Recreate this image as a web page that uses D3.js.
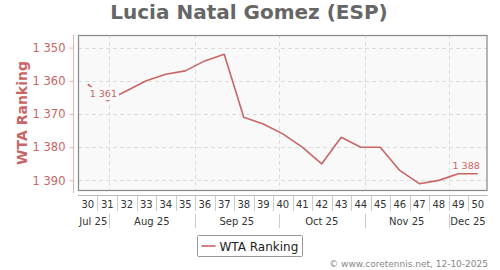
<!DOCTYPE html>
<html>
<head>
<meta charset="utf-8">
<script src="https://cdn.jsdelivr.net/npm/d3@7"></script>
<style>
  body { margin: 0; background: #fff; }
  text { font-family: "DejaVu Sans", sans-serif; }
</style>
</head>
<body>
<div id="chart"></div>
<script>
// ISO weeks of 2025 and the WTA ranking held in each
var weeks = [30, 31, 32, 33, 34, 35, 36, 37, 38, 39, 40,
             41, 42, 43, 44, 45, 46, 47, 48, 49, 50];
var ranking = [1361, 1366, 1363, 1360, 1358, 1357, 1354, 1352, 1371, 1373, 1376,
               1380, 1385, 1377, 1380, 1380, 1387, 1391, 1390, 1388, 1388];
var rankTicks = [1350, 1360, 1370, 1380, 1390];
var monthLabels = ["Jul 25", "Aug 25", "Sep 25", "Oct 25", "Nov 25", "Dec 25"];
var monthStarts = ["2025-07-01", "2025-08-01", "2025-09-01", "2025-10-01", "2025-11-01", "2025-12-01"];
var labelledWeeks = [30, 50];

var w = 500, h = 270;
var pLeft = 78, pRight = 487.5, pTop = 35, pBottom = 191;
var lineColor = "#c96565";
var DAY = 864e5;

// monday of an ISO week in 2025 (week 1 starts on 30 Dec 2024)
function weekStart(n) {
  return new Date(Date.UTC(2024, 11, 30) + (n - 1) * 7 * DAY);
}
function weekMid(n) {
  return new Date(weekStart(n).getTime() + 3.5 * DAY);
}

var svg = d3.select("#chart").append("svg")
  .attr("width", w)
  .attr("height", h);

var xScale = d3.scaleUtc()
  .domain([weekStart(weeks[0]), weekStart(weeks[weeks.length - 1] + 1)])
  .range([pLeft, pRight]);

var yScale = d3.scaleLinear()
  .domain([1346.2, 1393.2])
  .range([pTop, pBottom]);

// title
svg.append("text")
  .attr("x", 249)
  .attr("y", 19)
  .attr("text-anchor", "middle")
  .attr("font-size", "20px")
  .attr("font-weight", "bold")
  .attr("fill", "#666")
  .text("Lucia Natal Gomez (ESP)");

// plot background
svg.append("rect")
  .attr("x", pLeft)
  .attr("y", pTop)
  .attr("width", pRight - pLeft)
  .attr("height", pBottom - pTop)
  .attr("fill", "#f9f9f9");

// horizontal grid
svg.selectAll(".hgrid")
  .data(rankTicks)
  .enter()
  .append("line")
  .attr("class", "hgrid")
  .attr("x1", pLeft)
  .attr("x2", pRight)
  .attr("y1", function(d) { return Math.round(yScale(d)) + 0.5; })
  .attr("y2", function(d) { return Math.round(yScale(d)) + 0.5; })
  .attr("stroke", "#dcdcdc")
  .attr("stroke-dasharray", "4,3");

var monthDates = monthStarts.map(function(s) { return new Date(s + "T00:00:00Z"); });
var dom = xScale.domain();
var innerMonths = monthDates.filter(function(d) { return d > dom[0] && d < dom[1]; });

// vertical grid at month starts
svg.selectAll(".vgrid")
  .data(innerMonths)
  .enter()
  .append("line")
  .attr("class", "vgrid")
  .attr("x1", function(d) { return Math.round(xScale(d)) + 0.5; })
  .attr("x2", function(d) { return Math.round(xScale(d)) + 0.5; })
  .attr("y1", pTop)
  .attr("y2", pBottom)
  .attr("stroke", "#dcdcdc")
  .attr("stroke-dasharray", "4,3");

// plot border
svg.append("rect")
  .attr("x", pLeft + 0.5)
  .attr("y", pTop + 0.5)
  .attr("width", pRight - pLeft - 1)
  .attr("height", pBottom - pTop - 1)
  .attr("fill", "none")
  .attr("stroke", "#888")
  .attr("stroke-width", 1.2);

// y axis
var fmt = function(d) { return d3.format(",")(d).replace(",", " "); };
var yAxis = d3.axisLeft(yScale)
  .tickValues(rankTicks)
  .tickSize(4)
  .tickPadding(4)
  .tickFormat(fmt);

var yG = svg.append("g")
  .attr("transform", "translate(73.5,0)")
  .call(yAxis);
yG.select(".domain").attr("stroke", "#e3b3b3").attr("d", "M0," + pTop + "V" + (pBottom + 2));
yG.selectAll(".tick line").attr("stroke", "#e3b3b3");
yG.selectAll(".tick text")
  .attr("fill", lineColor)
  .attr("font-family", "DejaVu Sans")
  .attr("font-size", "11.5px");

svg.append("text")
  .attr("transform", "translate(27," + ((pTop + pBottom) / 2) + ") rotate(-90)")
  .attr("text-anchor", "middle")
  .attr("font-size", "14px")
  .attr("font-weight", "bold")
  .attr("fill", lineColor)
  .text("WTA Ranking");

// x axis: week labels centred in each week, separators at mondays
var xAxisY = 195.5;
svg.append("line")
  .attr("x1", pLeft)
  .attr("x2", pRight)
  .attr("y1", xAxisY)
  .attr("y2", xAxisY)
  .attr("stroke", "#bbb");

svg.selectAll(".wsep")
  .data(weeks.slice(1))
  .enter()
  .append("line")
  .attr("class", "wsep")
  .attr("x1", function(d) { return Math.round(xScale(weekStart(d))) + 0.5; })
  .attr("x2", function(d) { return Math.round(xScale(weekStart(d))) + 0.5; })
  .attr("y1", xAxisY)
  .attr("y2", 211)
  .attr("stroke", "#ccc");

svg.selectAll(".wlab")
  .data(weeks)
  .enter()
  .append("text")
  .attr("class", "wlab")
  .attr("x", function(d) { return xScale(weekMid(d)); })
  .attr("y", 208)
  .attr("text-anchor", "middle")
  .attr("font-size", "10px")
  .attr("fill", "#333")
  .text(function(d) { return d; });

// month row
svg.selectAll(".msep")
  .data(innerMonths)
  .enter()
  .append("line")
  .attr("class", "msep")
  .attr("x1", function(d) { return Math.round(xScale(d)) + 0.5; })
  .attr("x2", function(d) { return Math.round(xScale(d)) + 0.5; })
  .attr("y1", 214)
  .attr("y2", 228)
  .attr("stroke", "#ccc");

svg.selectAll(".mlab")
  .data(monthLabels)
  .enter()
  .append("text")
  .attr("class", "mlab")
  .attr("x", function(d, i) {
    var a = monthDates[i] < dom[0] ? dom[0] : monthDates[i];
    var b = (i + 1 < monthDates.length && monthDates[i + 1] < dom[1]) ? monthDates[i + 1] : dom[1];
    return (xScale(a) + xScale(b)) / 2;
  })
  .attr("y", 225)
  .attr("text-anchor", "middle")
  .attr("font-size", "10px")
  .attr("fill", "#333")
  .text(function(d) { return d; });

// ranking line
var line = d3.line()
  .x(function(d, i) { return xScale(weekMid(weeks[i])); })
  .y(function(d) { return yScale(d); });

svg.append("path")
  .datum(ranking)
  .attr("d", line)
  .attr("fill", "none")
  .attr("stroke", lineColor)
  .attr("stroke-width", 1.6)
  .attr("stroke-linejoin", "round");

// data labels on first and last point
labelledWeeks.forEach(function(wk, k) {
  var i = weeks.indexOf(wk);
  var px = xScale(weekMid(wk)), py = yScale(ranking[i]);
  var g = svg.append("g");
  var t = g.append("text")
    .attr("font-size", "9.5px")
    .attr("fill", lineColor)
    .attr("text-anchor", k === 0 ? "start" : "end")
    .attr("x", px + 2)
    .text(fmt(ranking[i]));
  var below = py + 5 + 9 + 5 <= pBottom;
  t.attr("y", below ? py + 13 : py - 5);
  var bb = t.node().getBBox();
  g.insert("rect", "text")
    .attr("x", bb.x - 2)
    .attr("y", bb.y - 1)
    .attr("width", bb.width + 4)
    .attr("height", bb.height + 2)
    .attr("fill", "#f9f9f9");
});

// legend
var lg = svg.append("g").attr("transform", "translate(197.5,235.5)");
lg.append("rect")
  .attr("width", 105)
  .attr("height", 21)
  .attr("rx", 1)
  .attr("fill", "#fff")
  .attr("stroke", "#999");
lg.append("line")
  .attr("x1", 4).attr("x2", 18)
  .attr("y1", 10.5).attr("y2", 10.5)
  .attr("stroke", lineColor)
  .attr("stroke-width", 1.6);
lg.append("text")
  .attr("x", 22)
  .attr("y", 15)
  .attr("font-size", "12px")
  .attr("fill", "#222")
  .text("WTA Ranking");

// credits
svg.append("text")
  .attr("x", 488)
  .attr("y", 267)
  .attr("text-anchor", "end")
  .attr("font-size", "9px")
  .attr("fill", "#888")
  .text("\u00a9 www.coretennis.net, 12-10-2025");
</script>
</body>
</html>
